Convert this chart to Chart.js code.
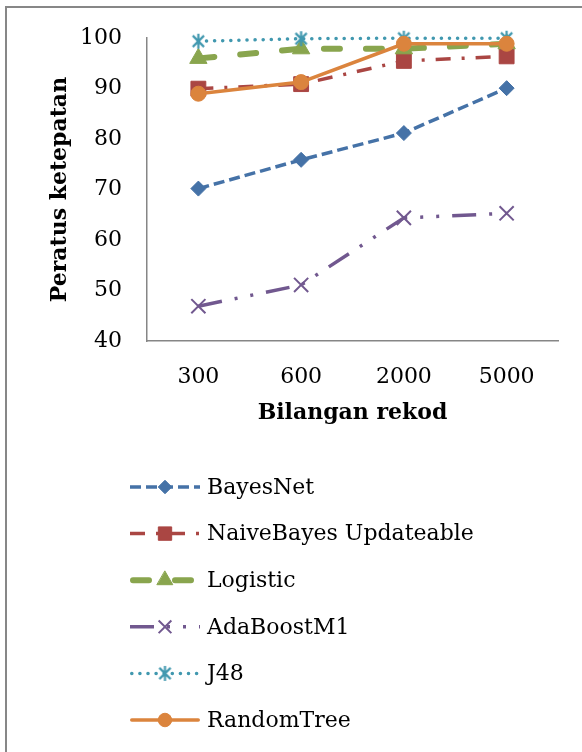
<!DOCTYPE html>
<html>
<head>
<meta charset="utf-8">
<script src="https://cdn.jsdelivr.net/npm/chart.js@4/dist/chart.umd.min.js"></script>
<style>
  html, body { margin: 0; padding: 0; background: #ffffff; }
  #wrap { width: 582px; height: 752px; position: relative; }
</style>
</head>
<body>
<div id="wrap"><canvas id="c" width="582" height="752"></canvas></div>
<script>
// Record counts on the x axis
const categories = ['300', '600', '2000', '5000'];

// Accuracy (%) per classifier
const seriesNames = ['BayesNet', 'NaiveBayes Updateable', 'Logistic', 'AdaBoostM1', 'J48', 'RandomTree'];
const bayesNet = [70.2, 75.9, 81.2, 90.1];
const naiveBayesUpdateable = [90.0, 90.9, 95.5, 96.4];
const logistic = [96.0, 97.9, 97.9, 98.9];
const adaBoostM1 = [46.9, 51.1, 64.4, 65.3];
const j48 = [99.4, 99.9, 100, 100];
const randomTree = [89.0, 91.3, 98.9, 98.9];

// Y axis ticks
const yTicks = [40, 50, 60, 70, 80, 90, 100];

const FONT = "'DejaVu Serif', 'Liberation Serif', serif";

// Asterisk marker (X with a vertical bar)
function makeStar(color, size, lw) {
  const cv = document.createElement('canvas');
  cv.width = size; cv.height = size;
  const g = cv.getContext('2d');
  g.strokeStyle = color; g.lineWidth = lw; g.lineCap = 'butt';
  const m = size / 2, r = size / 2 - 1;
  g.beginPath();
  g.moveTo(m, m - r); g.lineTo(m, m + r);
  const d = r * 0.75;
  g.moveTo(m - d, m - d); g.lineTo(m + d, m + d);
  g.moveTo(m + d, m - d); g.lineTo(m - d, m + d);
  g.stroke();
  return cv;
}

const styles = [
  { color: '#4572A7', width: 3.5, dash: [11, 5], cap: 'butt', point: 'rectRot', radius: 7.5, pbw: 1 },
  { color: '#AA4643', width: 3.5, dash: [15, 11, 3, 11], cap: 'butt', point: 'rect', radius: 10.5, pbw: 1 },
  { color: '#89A54E', width: 6, dash: [16, 26], cap: 'round', point: 'triangle', radius: 10, pbw: 1 },
  { color: '#71588F', width: 3.5, dash: [24, 13, 3, 13, 3, 13], cap: 'butt', point: 'crossRot', radius: 10, pbw: 2 },
  { color: '#4198AF', width: 3.5, dash: [0.1, 8], cap: 'round', point: makeStar('#4198AF', 17, 2.2), radius: 8, pbw: 1 },
  { color: '#DB843D', width: 3.5, dash: [], cap: 'round', point: 'circle', radius: 7.5, pbw: 1 }
];

const values = [bayesNet, naiveBayesUpdateable, logistic, adaBoostM1, j48, randomTree];

const datasets = values.map((v, i) => {
  const s = styles[i];
  return {
    label: seriesNames[i],
    data: v,
    borderColor: s.color,
    backgroundColor: s.color,
    borderWidth: s.width,
    borderDash: s.dash,
    borderCapStyle: s.cap,
    borderJoinStyle: 'round',
    pointStyle: s.point,
    pointRadius: s.radius,
    pointHoverRadius: s.radius,
    pointBackgroundColor: s.color,
    pointBorderColor: s.color,
    pointBorderWidth: s.pbw,
    tension: 0,
    fill: false,
    clip: false,
    order: values.length - 1 - i
  };
});

// Outer frame around the figure
const framePlugin = {
  id: 'frame',
  beforeDraw(chart) {
    const ctx = chart.ctx;
    ctx.save();
    ctx.fillStyle = '#ffffff';
    ctx.fillRect(0, 0, chart.width, chart.height);
    ctx.strokeStyle = '#878787';
    ctx.lineWidth = 2;
    ctx.strokeRect(6, 7, chart.width + 20, chart.height + 20);
    ctx.restore();
  }
};

// Vertical legend below the axis
const legendPlugin = {
  id: 'vlegend',
  afterDraw(chart) {
    const ctx = chart.ctx;
    const x0 = 130, x1 = 200, tx = 207, y0 = 487, step = 46.6;
    chart.data.datasets.forEach((ds, i) => {
      const y = y0 + i * step;
      ctx.save();
      ctx.strokeStyle = ds.borderColor;
      ctx.lineWidth = ds.borderWidth;
      ctx.lineCap = ds.borderCapStyle;
      ctx.setLineDash(ds.borderDash);
      ctx.beginPath();
      ctx.moveTo(x0 + (ds.borderCapStyle === 'round' ? ds.borderWidth / 2 : 0), y);
      ctx.lineTo(x1 - (ds.borderCapStyle === 'round' ? ds.borderWidth / 2 : 0), y);
      ctx.stroke();
      ctx.setLineDash([]);
      ctx.fillStyle = ds.pointBackgroundColor;
      ctx.strokeStyle = ds.pointBorderColor;
      ctx.lineWidth = ds.pointBorderWidth;
      Chart.helpers.drawPoint(ctx, {
        pointStyle: ds.pointStyle,
        radius: ds.pointRadius * 0.9,
        rotation: 0,
        borderWidth: ds.pointBorderWidth
      }, (x0 + x1) / 2, y);
      ctx.fillStyle = '#000000';
      ctx.font = '22px ' + FONT;
      ctx.textAlign = 'left';
      ctx.textBaseline = 'middle';
      ctx.fillText(ds.label, tx, y + 1);
      ctx.restore();
    });
  }
};

new Chart(document.getElementById('c'), {
  type: 'line',
  data: { labels: categories, datasets },
  options: {
    responsive: false,
    animation: false,
    events: [],
    layout: { padding: { left: 43, top: 37, right: 24, bottom: 322 } },
    plugins: {
      legend: { display: false },
      tooltip: { enabled: false }
    },
    scales: {
      x: {
        offset: true,
        grid: { display: false, drawTicks: false },
        border: { display: true, color: '#868686', width: 1.5 },
        ticks: { color: '#000', font: { family: FONT, size: 22 }, padding: 23, maxRotation: 0 },
        title: {
          display: true, text: 'Bilangan rekod', color: '#000',
          font: { family: FONT, size: 22, weight: 'bold' }, padding: 4
        },
        afterFit(s) { s.height = 89; }
      },
      y: {
        min: 40, max: 100,
        afterBuildTicks(s) { s.ticks = yTicks.map(v => ({ value: v })); },
        grid: { display: false, drawTicks: false },
        border: { display: true, color: '#868686', width: 1.5 },
        ticks: { color: '#000', font: { family: FONT, size: 22 }, padding: 25 },
        title: {
          display: true, text: 'Peratus ketepatan', color: '#000',
          font: { family: FONT, size: 22, weight: 'bold' }, padding: 4
        },
        afterFit(s) { s.width = 104; }
      }
    }
  },
  plugins: [framePlugin, legendPlugin]
});
</script>
</body>
</html>
